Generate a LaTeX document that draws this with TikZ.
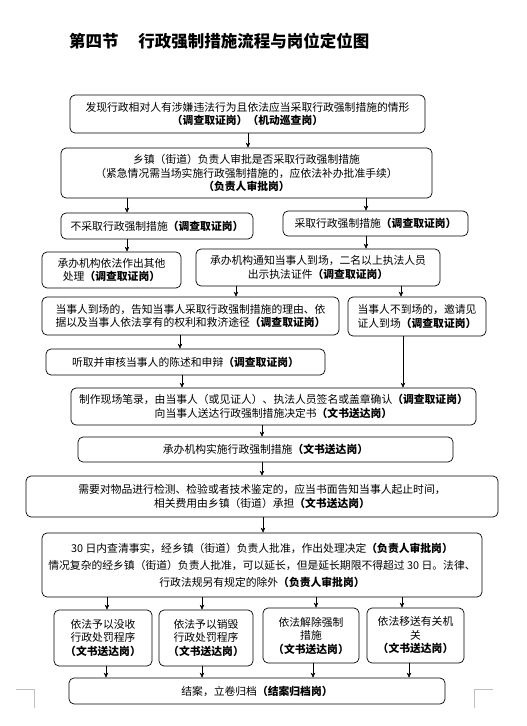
\documentclass[tikz,border=0pt]{standalone}
\usepackage{fontspec}
\setmainfont{Noto Sans CJK SC}
\usetikzlibrary{arrows.meta,positioning,calc}

\begin{document}
\begin{tikzpicture}[x=1pt,y=-1pt,>={Stealth[length=5pt,width=4.5pt]},
      box/.style={draw,line width=0.7pt,rounded corners=5pt,align=center,inner sep=0pt,
        font=\fontsize{10.8}{13.5}\selectfont},
      post/.style={font=\bfseries}]
    \useasboundingbox (0,0) rectangle (527,726);
    \node[anchor=west,inner sep=0pt,font=\bfseries\fontsize{16.5}{20}\selectfont] (title) at (69,41)
      {第四节\hspace{1.2em}行政强制措施流程与岗位定位图};
    \node[box,minimum width=355,minimum height=38] (find) at (247.5,114)
      {发现行政相对人有涉嫌违法行为且依法应当采取行政强制措施的情形\\\textbf{（调查取证岗）（机动巡查岗）}};
    \node[box,minimum width=371,minimum height=50] (approve) at (246.5,173)
      {乡镇（街道）负责人审批是否采取行政强制措施\\（紧急情况需当场实施行政强制措施的，应依法补办批准手续）\\\textbf{（负责人审批岗）}};
    \node[box,minimum width=192,minimum height=26] (notake) at (157,226)
      {不采取行政强制措施\textbf{（调查取证岗）}};
    \node[box,minimum width=185,minimum height=25] (take) at (375.5,223.5)
      {采取行政强制措施\textbf{（调查取证岗）}};
    \node[box,minimum width=139,minimum height=36] (other) at (111.5,270)
      {承办机构依法作出其他\\处理\textbf{（调查取证岗）}};
    \node[box,minimum width=244,minimum height=37] (notify) at (318,267.5)
      {承办机构通知当事人到场，二名以上执法人员\\出示执法证件\textbf{（调查取证岗）}};
    \node[box,align=left,minimum width=297,minimum height=38] (present) at (190.5,316)
      {当事人到场的，告知当事人采取行政强制措施的理由、依\\据以及当事人依法享有的权利和救济途径\textbf{（调查取证岗）}};
    \node[box,align=left,minimum width=138,minimum height=39] (absent) at (417,316.5)
      {当事人不到场的，邀请见\\证人到场\textbf{（调查取证岗）}};
    \node[box,minimum width=279,minimum height=26] (hear) at (185.5,362)
      {听取并审核当事人的陈述和申辩\textbf{（调查取证岗）}};
    \node[box,minimum width=405,minimum height=37] (record) at (273.5,406.5)
      {制作现场笔录，由当事人（或见证人）、执法人员签名或盖章确认\textbf{（调查取证岗）}\\向当事人送达行政强制措施决定书\textbf{（文书送达岗）}};
    \node[box,minimum width=375,minimum height=25] (apply) at (265.5,449.5)
      {承办机构实施行政强制措施\textbf{（文书送达岗）}};
    \node[box,minimum width=472,minimum height=41] (test) at (262,496.5)
      {需要对物品进行检测、检验或者技术鉴定的，应当书面告知当事人起止时间，\\相关费用由乡镇（街道）承担\textbf{（文书送达岗）}};
    \node[box,minimum width=440,minimum height=64,font=\fontsize{10.8}{17}\selectfont] (decide) at (262,565)
      {30 日内查清事实，经乡镇（街道）负责人批准，作出处理决定\textbf{（负责人审批岗）}\\情况复杂的经乡镇（街道）负责人批准，可以延长，但是延长期限不得超过 30 日。法律、\\行政法规另有规定的除外\textbf{（负责人审批岗）}};
    \node[box,minimum width=98,minimum height=56] (confisc) at (103,638)
      {依法予以没收\\行政处罚程序\\\textbf{（文书送达岗）}};
    \node[box,minimum width=94,minimum height=56] (destroy) at (206,638)
      {依法予以销毁\\行政处罚程序\\\textbf{（文书送达岗）}};
    \node[box,minimum width=96,minimum height=55] (release) at (311,635.5)
      {依法解除强制\\措施\\\textbf{（文书送达岗）}};
    \node[box,minimum width=97,minimum height=55] (transfer) at (415.5,635.5)
      {依法移送有关机\\关\\\textbf{（文书送达岗）}};
    \node[box,minimum width=376,minimum height=26] (close) at (257,691)
      {结案，立卷归档\textbf{（结案归档岗）}};
    \draw[->] (find.south -| 248,0) -- (approve.north -| 248,0);
    \draw[->] (approve.south -| 127,0) -- (notake.north -| 127,0);
    \draw[->] (approve.south -| 366,0) -- (take.north -| 366,0);
    \draw[->] (notake.south -| 127,0) -- (other.north -| 127,0);
    \draw[->] (take.south -| 366,0) -- (notify.north -| 366,0);
    \draw[->] (notify.south -| 236,0) -- (present.north -| 236,0);
    \draw[->] (notify.south -| 401,0) -- (absent.north -| 401,0);
    \draw[->] (present.south -| 180,0) -- (hear.north -| 180,0);
    \draw[->] (hear.south -| 182,0) -- (record.north -| 182,0);
    \draw[->] (absent.south -| 403,0) -- (record.north -| 403,0);
    \draw[->] (record.south -| 262,0) -- (apply.north -| 262,0);
    \draw[->] (apply.south -| 262,0) -- (test.north -| 262,0);
    \draw[->] (test.south -| 263,0) -- (decide.north -| 263,0);
    \draw[->] (decide.south -| 107,0) -- (confisc.north -| 107,0);
    \draw[->] (decide.south -| 202,0) -- (destroy.north -| 202,0);
    \draw[->] (decide.south -| 316,0) -- (release.north -| 316,0);
    \draw[->] (decide.south -| 402,0) -- (transfer.north -| 402,0);
    \draw[->] (confisc.south -| 106,0) -- (close.north -| 106,0);
    \draw[->] (destroy.south -| 202,0) -- (close.north -| 202,0);
    \draw[->] (release.south -| 313,0) -- (close.north -| 313,0);
    \draw[->] (transfer.south -| 409,0) -- (close.north -| 409,0);
    \draw[gray!50] (16,689) -- (34,689) -- (34,708);
    \draw[gray!50] (493,689) -- (474,689) -- (474,708);
  \end{tikzpicture}
\end{document}
